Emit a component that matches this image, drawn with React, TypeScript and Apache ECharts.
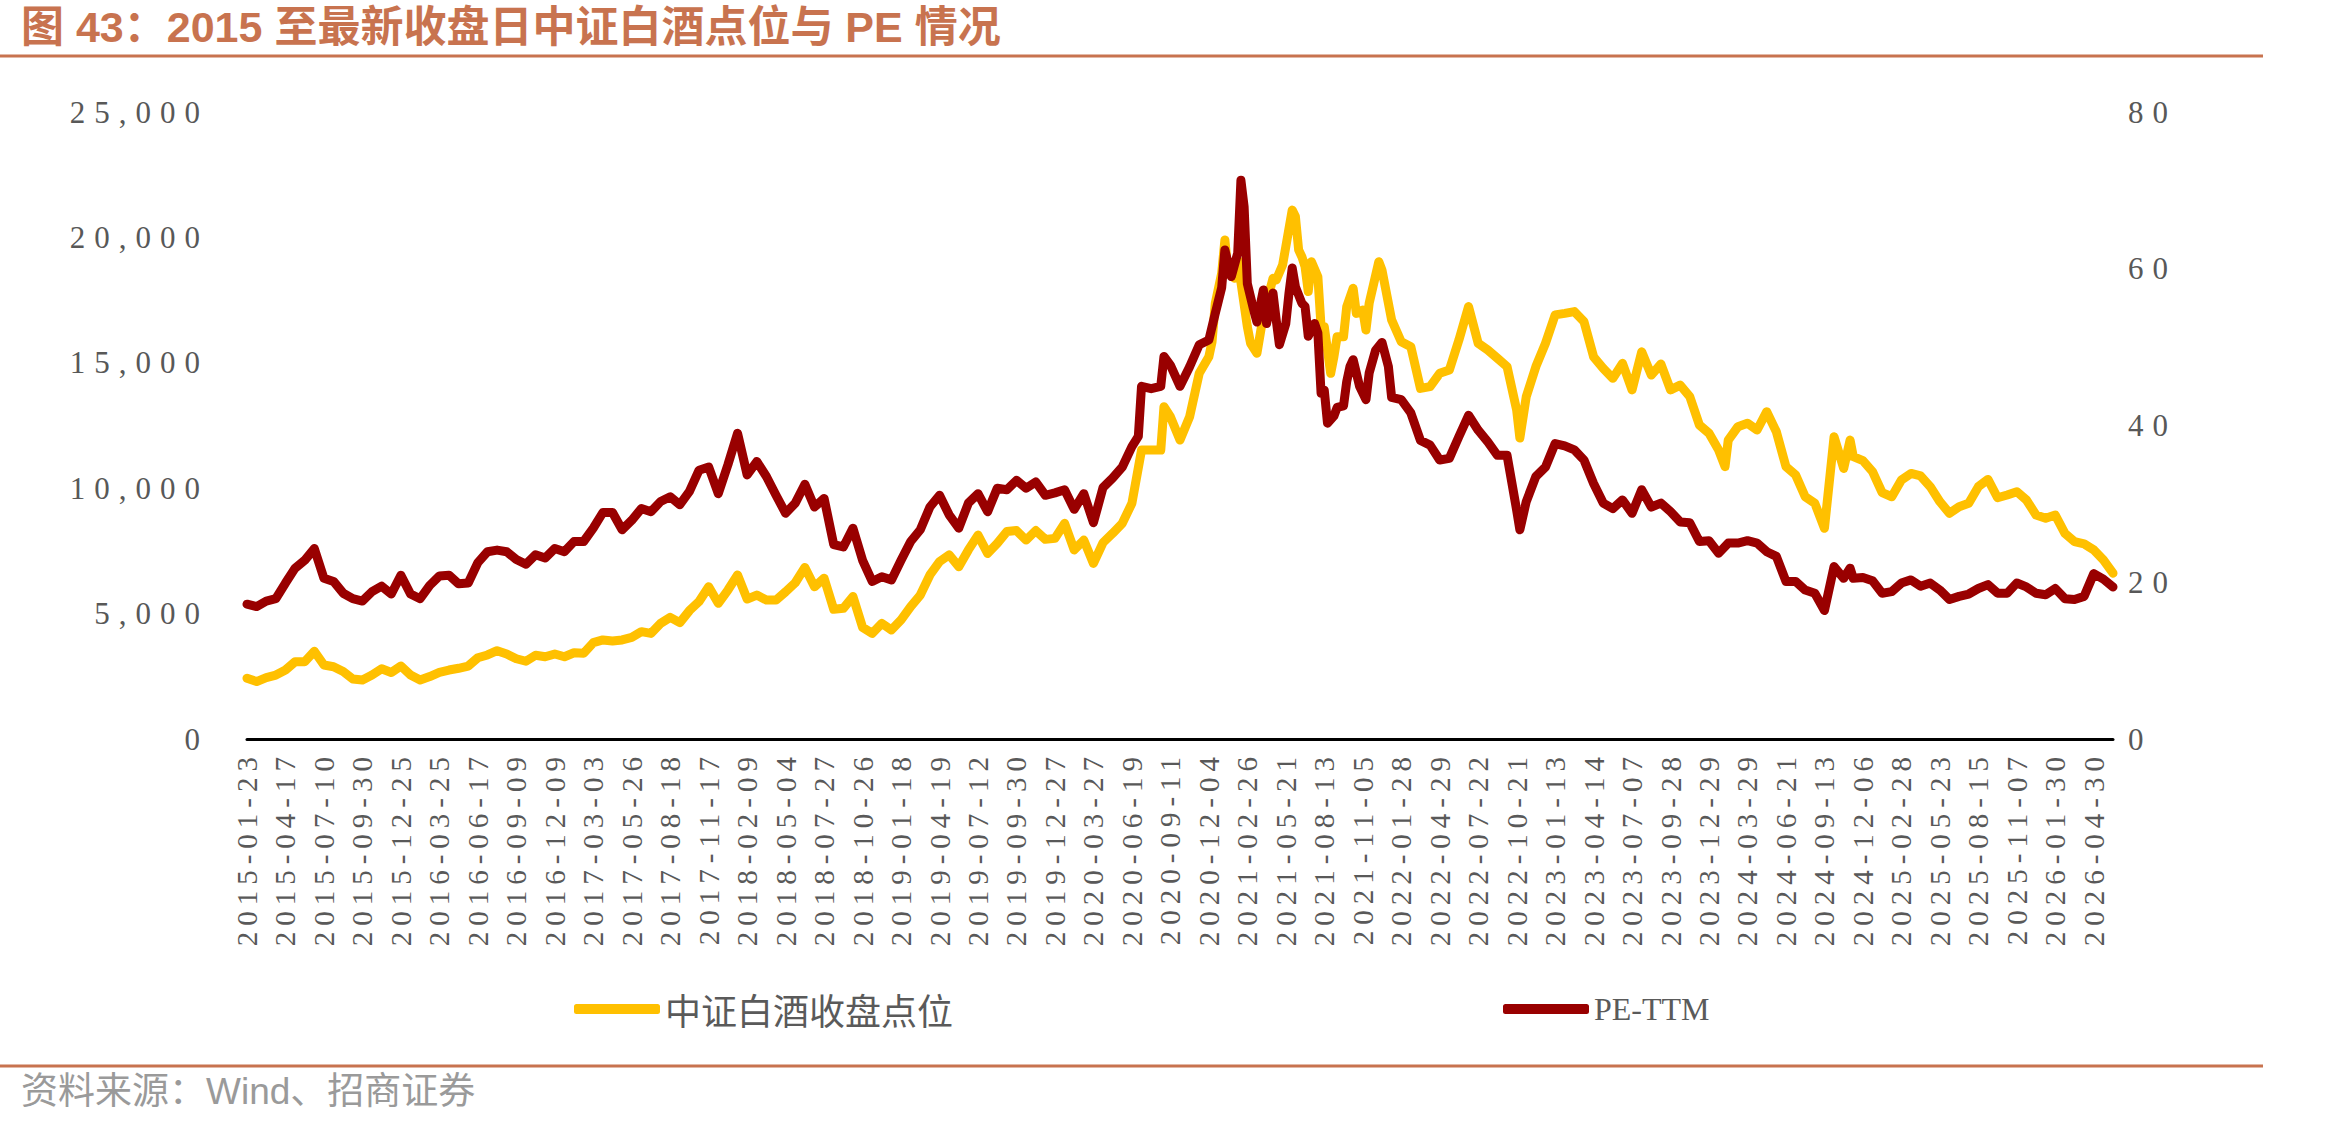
import React, { useEffect, useRef } from 'react';
import * as echarts from 'echarts';

// Tick dates shown on the x axis (every 12th trading week)
const TICK_LABELS = [
  '2015-01-23', '2015-04-17', '2015-07-10', '2015-09-30', '2015-12-25',
  '2016-03-25', '2016-06-17', '2016-09-09', '2016-12-09', '2017-03-03',
  '2017-05-26', '2017-08-18', '2017-11-17', '2018-02-09', '2018-05-04',
  '2018-07-27', '2018-10-26', '2019-01-18', '2019-04-19', '2019-07-12',
  '2019-09-30', '2019-12-27', '2020-03-27', '2020-06-19', '2020-09-11',
  '2020-12-04', '2021-02-26', '2021-05-21', '2021-08-13', '2021-11-05',
  '2022-01-28', '2022-04-29', '2022-07-22', '2022-10-21', '2023-01-13',
  '2023-04-14', '2023-07-07', '2023-09-28', '2023-12-29', '2024-03-29',
  '2024-06-21', '2024-09-13', '2024-12-06', '2025-02-28', '2025-05-23',
  '2025-08-15', '2025-11-07', '2026-01-30', '2026-04-30',
];
const WEEKS_PER_TICK = 12;
const WEEK_COUNT = 583;

// [week index, index close]
const INDEX_CLOSE: [number, number][] = [
  [0, 2420], [3, 2290], [6, 2450], [9, 2550], [12, 2750], [15, 3080], [18, 3080], [21, 3500],
  [24, 2950], [27, 2880], [30, 2690], [33, 2390], [36, 2350], [39, 2550], [42, 2800], [45, 2650],
  [48, 2910], [51, 2550], [54, 2350], [57, 2490], [60, 2660], [63, 2750], [66, 2820], [69, 2910],
  [72, 3240], [75, 3350], [78, 3520], [81, 3390], [84, 3200], [87, 3100], [90, 3340], [93, 3280],
  [96, 3390], [99, 3280], [102, 3440], [105, 3420], [108, 3840], [111, 3950], [114, 3910], [117, 3950],
  [120, 4050], [123, 4280], [126, 4210], [129, 4610], [132, 4850], [135, 4640], [138, 5120], [141, 5480],
  [144, 6070], [147, 5410], [150, 5940], [153, 6540], [156, 5580], [159, 5740], [162, 5540], [165, 5540],
  [168, 5870], [171, 6230], [174, 6840], [177, 6070], [180, 6410], [183, 5170], [186, 5210], [189, 5680],
  [192, 4450], [195, 4210], [198, 4610], [201, 4350], [204, 4750], [207, 5280], [210, 5740], [213, 6540],
  [216, 7070], [219, 7340], [222, 6870], [225, 7540], [228, 8130], [231, 7400], [234, 7800], [237, 8270],
  [240, 8310], [243, 7930], [246, 8310], [249, 7960], [252, 8000], [255, 8600], [258, 7540], [261, 7930],
  [264, 7000], [267, 7830], [270, 8200], [273, 8600], [276, 9400], [279, 11520], [282, 11520], [285, 11520],
  [286, 13250], [288, 12850], [291, 11920], [294, 12850], [297, 14580], [300, 15240], [301, 15840], [302, 17370],
  [304, 18570], [305, 19900], [306, 18570], [308, 18370], [309, 19100], [312, 16440], [313, 15780], [315, 15380],
  [317, 16900], [320, 18370], [321, 18300], [323, 18900], [324, 19630], [326, 21090], [327, 20830], [328, 19500],
  [329, 19230], [330, 18830], [331, 17840], [332, 19030], [334, 18430], [335, 16440], [336, 16440], [338, 14580],
  [339, 15240], [340, 16040], [342, 16040], [343, 17240], [345, 17970], [346, 16970], [348, 17100], [349, 16310],
  [350, 17370], [353, 19030], [354, 18700], [357, 16710], [360, 15840], [363, 15640], [366, 13980], [369, 14050],
  [372, 14580], [375, 14710], [378, 15910], [381, 17240], [384, 15780], [387, 15510], [390, 15180], [393, 14850],
  [396, 13120], [397, 12000], [399, 13650], [402, 14850], [405, 15780], [408, 16910], [411, 16970], [414, 17040],
  [417, 16640], [420, 15240], [423, 14780], [426, 14380], [429, 14980], [432, 13920], [435, 15440], [438, 14510],
  [441, 14950], [444, 13920], [447, 14110], [450, 13650], [453, 12520], [456, 12190], [459, 11520], [461, 10860],
  [462, 11920], [465, 12450], [468, 12590], [471, 12320], [474, 13050], [477, 12250], [480, 10860], [483, 10530],
  [486, 9660], [489, 9400], [492, 8400], [495, 12050], [498, 10790], [500, 11920], [501, 11260], [504, 11100],
  [507, 10660], [510, 9820], [513, 9660], [516, 10330], [519, 10590], [522, 10490], [525, 10060], [528, 9460],
  [531, 9000], [534, 9260], [537, 9400], [540, 10060], [543, 10350], [546, 9620], [549, 9730], [552, 9860],
  [555, 9530], [558, 8930], [561, 8800], [564, 8930], [567, 8200], [570, 7870], [573, 7780], [576, 7540],
  [579, 7140], [582, 6610],
];

// [week index, PE-TTM]
const PE_TTM: [number, number][] = [
  [0, 17.2], [3, 16.9], [6, 17.6], [9, 17.9], [12, 19.9], [15, 21.8], [18, 22.8], [21, 24.3],
  [24, 20.5], [27, 20.1], [30, 18.6], [33, 17.9], [36, 17.6], [39, 18.8], [42, 19.5], [45, 18.5],
  [48, 20.9], [51, 18.5], [54, 17.9], [57, 19.6], [60, 20.8], [63, 20.9], [66, 19.8], [69, 19.9],
  [72, 22.5], [75, 23.9], [78, 24.1], [81, 23.9], [84, 22.9], [87, 22.3], [90, 23.5], [93, 23.1],
  [96, 24.3], [99, 23.9], [102, 25.2], [105, 25.2], [108, 26.9], [111, 28.9], [114, 28.9], [117, 26.7],
  [120, 27.9], [123, 29.4], [126, 29.0], [129, 30.3], [132, 30.9], [135, 29.9], [138, 31.6], [141, 34.3],
  [144, 34.7], [147, 31.3], [150, 35.0], [153, 39.0], [156, 33.7], [159, 35.4], [162, 33.5], [165, 31.1],
  [168, 28.8], [171, 30.1], [174, 32.5], [177, 29.6], [180, 30.7], [183, 24.8], [186, 24.5], [189, 26.9],
  [192, 22.8], [195, 20.1], [198, 20.7], [201, 20.3], [204, 22.8], [207, 25.2], [210, 26.7], [213, 29.6],
  [216, 31.1], [219, 28.6], [222, 26.9], [225, 30.1], [228, 31.3], [231, 29.0], [234, 32.0], [237, 31.8],
  [240, 33.0], [243, 32.0], [246, 32.8], [249, 31.1], [252, 31.4], [255, 31.8], [258, 29.3], [261, 31.3],
  [264, 27.6], [267, 32.1], [270, 33.3], [273, 34.7], [276, 37.3], [278, 38.6], [279, 45.0], [282, 44.7],
  [285, 45.0], [286, 48.8], [288, 47.7], [291, 45.0], [294, 47.5], [297, 50.3], [300, 50.9], [302, 54.3],
  [304, 57.6], [305, 62.4], [307, 59.0], [309, 62.0], [310, 71.3], [311, 67.9], [312, 58.1], [314, 54.7],
  [315, 53.2], [317, 57.3], [318, 53.0], [320, 56.9], [321, 53.5], [322, 50.3], [324, 53.0], [325, 56.9],
  [326, 60.1], [327, 57.7], [329, 55.6], [330, 55.2], [331, 51.4], [333, 53.0], [334, 51.8], [335, 44.1],
  [336, 44.5], [337, 40.3], [339, 41.2], [340, 42.3], [342, 42.5], [343, 45.6], [344, 47.5], [345, 48.4],
  [347, 45.0], [349, 43.3], [350, 46.7], [352, 49.6], [354, 50.6], [356, 47.5], [357, 43.6], [360, 43.3],
  [363, 41.6], [366, 38.1], [369, 37.5], [372, 35.6], [375, 35.8], [378, 38.6], [381, 41.3], [384, 39.4],
  [387, 37.9], [390, 36.2], [393, 36.2], [396, 29.2], [397, 26.7], [399, 30.3], [402, 33.5], [405, 34.7],
  [408, 37.7], [411, 37.4], [414, 36.9], [417, 35.6], [420, 32.6], [423, 30.1], [426, 29.4], [429, 30.5],
  [432, 28.8], [435, 31.8], [438, 29.6], [441, 30.1], [444, 29.0], [447, 27.7], [450, 27.6], [453, 25.2],
  [456, 25.3], [459, 23.7], [462, 25.0], [465, 25.0], [468, 25.3], [471, 25.0], [474, 23.9], [477, 23.3],
  [480, 20.1], [483, 20.1], [486, 19.0], [489, 18.6], [492, 16.4], [495, 22.0], [498, 20.5], [500, 21.8],
  [501, 20.5], [504, 20.6], [507, 20.2], [510, 18.6], [513, 18.8], [516, 19.9], [519, 20.3], [522, 19.5],
  [525, 19.9], [528, 19.0], [531, 17.8], [534, 18.2], [537, 18.5], [540, 19.2], [543, 19.7], [546, 18.6],
  [549, 18.6], [552, 19.9], [555, 19.4], [558, 18.6], [561, 18.4], [564, 19.2], [567, 17.9], [570, 17.8],
  [573, 18.2], [576, 21.1], [579, 20.4], [582, 19.4],
];

const LEFT_AXIS = { min: 0, max: 25000, interval: 5000 };
const RIGHT_AXIS = { min: 0, max: 80, interval: 20 };

const SERIES_NAMES = ['中证白酒收盘点位', 'PE-TTM'];
const SERIES_COLORS = ['#FFC000', '#990000'];
const TITLE = '图 43：2015 至最新收盘日中证白酒点位与 PE 情况';
const SOURCE = '资料来源：Wind、招商证券';

// colours used as hooks for the letter-spaced axis text
const X_LABEL_COLOR = '#595959';
const Y_LABEL_COLOR = '#585858';
const LEGEND_TEXT_COLOR = '#5a5a5a';
const ACCENT = '#C8734F';

// One category per trading week; labelled weeks use the tick dates,
// the weeks in between are stepped forward by 7 days.
function buildWeeks(): string[] {
  const out: string[] = [];
  for (let k = 0; k < WEEK_COUNT; k++) {
    const tick = Math.min(Math.floor(k / WEEKS_PER_TICK), TICK_LABELS.length - 1);
    const base = TICK_LABELS[tick];
    const off = k - tick * WEEKS_PER_TICK;
    if (off === 0) {
      out.push(base);
    } else {
      const d = new Date(base + 'T00:00:00Z');
      d.setUTCDate(d.getUTCDate() + 7 * off);
      out.push(d.toISOString().slice(0, 10));
    }
  }
  return out;
}

const SERIF = '"Liberation Serif", "Times New Roman", serif';
const CJK = '"Noto Sans CJK SC", sans-serif';
const SANS = '"Liberation Sans", "Noto Sans CJK SC", sans-serif';

export default function App() {
  const ref = useRef<HTMLDivElement>(null);

  useEffect(() => {
    if (!ref.current) return;
    const chart = echarts.init(ref.current, null, { renderer: 'svg' });
    const weeks = buildWeeks();

    const lineSeries = (idx: number, data: [number, number][]) => ({
      name: SERIES_NAMES[idx],
      type: 'line',
      yAxisIndex: idx,
      data,
      symbol: 'none',
      color: SERIES_COLORS[idx],
      itemStyle: { color: SERIES_COLORS[idx] },
      lineStyle: { color: SERIES_COLORS[idx], width: 9, cap: 'round', join: 'round' },
      z: 2 + idx,
    });

    chart.setOption({
      animation: false,
      backgroundColor: '#ffffff',
      grid: { left: 247, right: 237, top: 112, bottom: 386, containLabel: false },
      legend: [
        {
          data: [SERIES_NAMES[0]],
          left: 574,
          top: 991,
          padding: 0,
          icon: 'roundRect',
          itemWidth: 86,
          itemHeight: 10,
          itemGap: 8,
          textStyle: { color: LEGEND_TEXT_COLOR, fontSize: 36, fontFamily: CJK },
        },
        {
          data: [SERIES_NAMES[1]],
          left: 1503,
          top: 993,
          padding: 0,
          icon: 'roundRect',
          itemWidth: 86,
          itemHeight: 10,
          itemGap: 10,
          textStyle: { color: LEGEND_TEXT_COLOR, fontSize: 32, fontFamily: SERIF },
        },
      ],
      xAxis: {
        type: 'category',
        data: weeks,
        boundaryGap: false,
        axisLine: { show: true, lineStyle: { color: '#000000', width: 3 } },
        axisTick: { show: false },
        splitLine: { show: false },
        axisLabel: {
          interval: WEEKS_PER_TICK - 1,
          rotate: 90,
          margin: 12,
          color: X_LABEL_COLOR,
          fontSize: 29,
          fontFamily: SERIF,
        },
      },
      yAxis: [
        {
          type: 'value',
          ...LEFT_AXIS,
          axisLine: { show: false },
          axisTick: { show: false },
          splitLine: { show: false },
          axisLabel: {
            margin: 38,
            color: Y_LABEL_COLOR,
            fontSize: 31,
            fontFamily: SERIF,
            formatter: (v: number) => v.toLocaleString('en-US'),
          },
        },
        {
          type: 'value',
          ...RIGHT_AXIS,
          axisLine: { show: false },
          axisTick: { show: false },
          splitLine: { show: false },
          axisLabel: {
            margin: 15,
            color: Y_LABEL_COLOR,
            fontSize: 31,
            fontFamily: SERIF,
          },
        },
      ],
      series: [lineSeries(0, INDEX_CLOSE), lineSeries(1, PE_TTM)],
      graphic: [
        {
          type: 'text',
          x: 21,
          y: 27,
          style: {
            text: TITLE,
            fill: ACCENT,
            fontSize: 43,
            fontWeight: 'bold',
            fontFamily: SANS,
            align: 'left',
            verticalAlign: 'middle',
          },
        },
        {
          type: 'line',
          shape: { x1: 0, y1: 56, x2: 2263, y2: 56 },
          style: { stroke: ACCENT, lineWidth: 3 },
        },
        {
          type: 'line',
          shape: { x1: 0, y1: 1066, x2: 2263, y2: 1066 },
          style: { stroke: ACCENT, lineWidth: 3 },
        },
        {
          type: 'text',
          x: 21,
          y: 1091,
          style: {
            text: SOURCE,
            fill: '#9a9a9a',
            fontSize: 37,
            fontFamily: SANS,
            align: 'left',
            verticalAlign: 'middle',
          },
        },
      ],
    });

    return () => chart.dispose();
  }, []);

  return (
    <>
      <style>{`
        .liquor-chart text[fill="${X_LABEL_COLOR}"] { letter-spacing: 6px; }
        .liquor-chart text[fill="${Y_LABEL_COLOR}"] { letter-spacing: 9px; }
      `}</style>
      <div
        ref={ref}
        className="liquor-chart"
        style={{ position: 'absolute', left: 0, top: 0, width: 2350, height: 1125, background: '#ffffff' }}
      />
    </>
  );
}
